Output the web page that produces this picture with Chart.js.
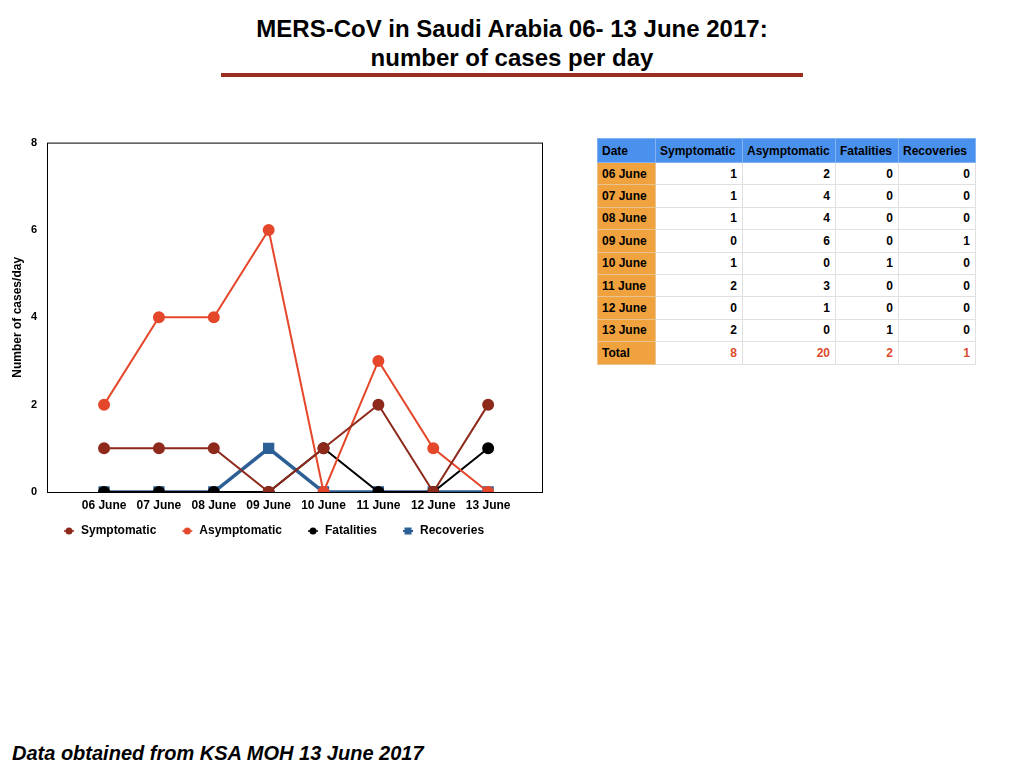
<!DOCTYPE html>
<html>
<head>
<meta charset="utf-8">
<script src="https://cdn.jsdelivr.net/npm/chart.js@4/dist/chart.umd.min.js"></script>
<style>
  html, body { margin: 0; padding: 0; background: #fff; }
  body { width: 1024px; height: 768px; position: relative; overflow: hidden;
         font-family: "Liberation Sans", Arial, Helvetica, sans-serif; color: #000; }
  .title { position: absolute; left: 0; top: 14px; width: 1024px; text-align: center;
           font-weight: bold; font-size: 24px; line-height: 29px; }
  .rule { position: absolute; left: 221px; top: 73px; width: 582px; height: 4px; background: #9b2d20; }
  #chartBox { position: absolute; left: 0; top: 126px; width: 560px; height: 444px; }
  table { position: absolute; left: 597px; top: 138px; border-collapse: collapse;
          table-layout: fixed; font-size: 12px; font-weight: bold; }
  th, td { border: 1px solid #e0e0e0; padding: 0 5px 0 4px; height: 21.4px; white-space: nowrap; }
  th { background: #4a91ee; text-align: left; height: 23px; border-color: #82b2f2; }
  td { text-align: right; }
  td.date { background: #f0a23e; text-align: left; border-color: #eac490; }
  tr.total td.num { color: #dd4a2c; }
  .source { position: absolute; left: 12px; top: 742px; font-size: 20px; font-weight: bold; font-style: italic; }
</style>
</head>
<body>
<div class="title">MERS-CoV in Saudi Arabia 06- 13 June 2017:<br>number of cases per day</div>
<div class="rule"></div>
<div id="chartBox"><canvas id="casesChart"></canvas></div>
<table id="casesTable"></table>
<div class="source">Data obtained from KSA MOH 13 June 2017</div>

<script>
// Data
const dates = ['06 June', '07 June', '08 June', '09 June', '10 June', '11 June', '12 June', '13 June'];
const symptomatic = [1, 1, 1, 0, 1, 2, 0, 2];
const asymptomatic = [2, 4, 4, 6, 0, 3, 1, 0];
const fatalities = [0, 0, 0, 0, 1, 0, 0, 1];
const recoveries = [0, 0, 0, 1, 0, 0, 0, 0];
const yTicks = [0, 2, 4, 6, 8];

const colSymp = '#8e2a1c';
const colAsym = '#e5472b';
const colFat = '#000000';
const colRec = '#2c5f96';

// Table
const tableEl = document.getElementById('casesTable');
const widths = [58, 87, 93, 63, 77];
let html = '<colgroup>' + widths.map(w => `<col style="width:${w}px">`).join('') + '</colgroup>';
html += '<tr><th>Date</th><th>Symptomatic</th><th>Asymptomatic</th><th>Fatalities</th><th>Recoveries</th></tr>';
dates.forEach((d, i) => {
    html += `<tr><td class="date">${d}</td><td>${symptomatic[i]}</td><td>${asymptomatic[i]}</td><td>${fatalities[i]}</td><td>${recoveries[i]}</td></tr>`;
});
const sum = arr => arr.reduce((a, b) => a + b, 0);
html += `<tr class="total"><td class="date">Total</td><td class="num">${sum(symptomatic)}</td><td class="num">${sum(asymptomatic)}</td><td class="num">${sum(fatalities)}</td><td class="num">${sum(recoveries)}</td></tr>`;
tableEl.innerHTML = html;

// small line+marker images for the legend
function legendMark(color, square) {
    const c = document.createElement('canvas');
    c.width = 12; c.height = 8;
    const g = c.getContext('2d');
    g.strokeStyle = color; g.lineWidth = square ? 2 : 1.5;
    g.beginPath(); g.moveTo(1, 4); g.lineTo(11, 4); g.stroke();
    g.fillStyle = color;
    if (square) { g.fillRect(2.5, 0.5, 7, 7); }
    else { g.beginPath(); g.arc(6, 4, 3.5, 0, Math.PI * 2); g.fill(); }
    return c;
}

const toPoints = arr => arr.map((v, i) => ({ x: i, y: v }));

// draws the box round the plot area
const frame = {
    id: 'frame',
    afterDraw(chart) {
        const a = chart.chartArea, ctx = chart.ctx;
        ctx.save();
        ctx.strokeStyle = '#000';
        ctx.lineWidth = 1;
        ctx.strokeRect(a.left + 0.5, a.top + 0.5, a.right - a.left - 1, a.bottom - a.top);
        ctx.restore();
    }
};

// pull the legend up closer to the tick labels, as on the slide
const legendShift = {
    id: 'legendShift',
    afterLayout(chart) {
        const lg = chart.legend;
        const dy = (chart.chartArea.bottom + 8) - lg.top;
        const dx = 2;
        lg.top += dy; lg.bottom += dy;
        lg.left += dx; lg.right += dx;
    }
};

const font = { family: '"Liberation Sans", Arial, sans-serif', size: 12, weight: 'bold' };

new Chart(document.getElementById('casesChart'), {
    type: 'line',
    data: {
        datasets: [
            { label: 'Symptomatic', data: toPoints(symptomatic), borderColor: colSymp, backgroundColor: colSymp,
              borderWidth: 2, pointRadius: 5, order: 0, mark: legendMark(colSymp) },
            { label: 'Asymptomatic', data: toPoints(asymptomatic), borderColor: colAsym, backgroundColor: colAsym,
              borderWidth: 2, pointRadius: 5, order: 1, mark: legendMark(colAsym) },
            { label: 'Fatalities', data: toPoints(fatalities), borderColor: colFat, backgroundColor: colFat,
              borderWidth: 2, pointRadius: 5, order: 2, mark: legendMark(colFat) },
            { label: 'Recoveries', data: toPoints(recoveries), borderColor: colRec, backgroundColor: colRec,
              borderWidth: 3.5, pointRadius: 5.5, pointStyle: 'rect', order: 3, mark: legendMark(colRec, true) }
        ]
    },
    options: {
        responsive: true,
        maintainAspectRatio: false,
        animation: false,
        layout: { padding: { top: 9, right: 17, left: 0, bottom: 7 } },
        plugins: {
            tooltip: { enabled: false },
            legend: {
                position: 'bottom',
                labels: {
                    usePointStyle: true,
                    padding: 25,
                    color: '#000',
                    font: font,
                    generateLabels(chart) {
                        return chart.data.datasets.map((ds, i) => ({
                            text: ds.label, pointStyle: ds.mark, fillStyle: ds.borderColor,
                            strokeStyle: ds.borderColor, lineWidth: 0, hidden: false, datasetIndex: i, fontColor: '#000'
                        }));
                    }
                }
            }
        },
        scales: {
            x: {
                type: 'linear',
                min: -1.04,
                max: 8,
                grid: { display: false, drawTicks: false },
                border: { display: false },
                afterBuildTicks(scale) { scale.ticks = dates.map((d, i) => ({ value: i })); },
                ticks: {
                    autoSkip: false, maxRotation: 0, minRotation: 0, padding: 6, color: '#000', font: font,
                    callback: (v, i) => dates[i]
                },
                afterFit(scale) { scale.height = 24; }
            },
            y: {
                min: 0,
                max: 8,
                grid: { display: false, drawTicks: false },
                border: { display: false },
                afterBuildTicks(scale) { scale.ticks = yTicks.map(v => ({ value: v })); },
                ticks: { padding: 10, color: '#000', font: { family: font.family, size: 11, weight: 'bold' } },
                title: { display: true, text: 'Number of cases/day', color: '#000',
                         font: { family: font.family, size: 12, weight: 'bold' }, padding: { top: 10, bottom: 0 } },
                afterFit(scale) { scale.width = 47; }
            }
        }
    },
    plugins: [frame, legendShift]
});
</script>
</body>
</html>
